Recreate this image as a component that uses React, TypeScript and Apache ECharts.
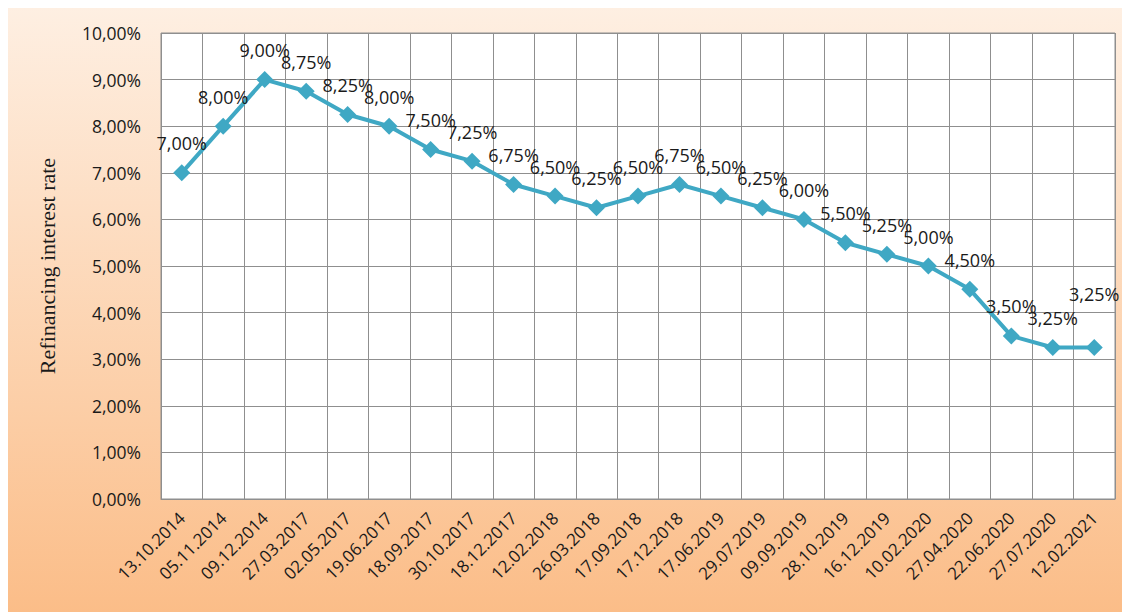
import React, { useEffect, useRef } from "react";
import * as echarts from "echarts";

const categories = [
  "13.10.2014", "05.11.2014", "09.12.2014", "27.03.2017", "02.05.2017", "19.06.2017",
  "18.09.2017", "30.10.2017", "18.12.2017", "12.02.2018", "26.03.2018", "17.09.2018",
  "17.12.2018", "17.06.2019", "29.07.2019", "09.09.2019", "28.10.2019", "16.12.2019",
  "10.02.2020", "27.04.2020", "22.06.2020", "27.07.2020", "12.02.2021",
];
const rates = [
  7.0, 8.0, 9.0, 8.75, 8.25, 8.0, 7.5, 7.25, 6.75, 6.5, 6.25, 6.5, 6.75, 6.5, 6.25, 6.0,
  5.5, 5.25, 5.0, 4.5, 3.5, 3.25, 3.25,
];
const yAxisTitle = "Refinancing interest rate";

const fmt = (v: number) => v.toFixed(2).replace(".", ",") + "%";

export default function App() {
  const ref = useRef<HTMLDivElement>(null);
  useEffect(() => {
    if (!ref.current) return;
    const chart = echarts.init(ref.current, undefined, { renderer: "svg" });
    const last = rates.length - 1;
    chart.setOption({
      animation: false,
      backgroundColor: {
        type: "linear", x: 0, y: 0, x2: 0, y2: 1,
        colorStops: [
          { offset: 0, color: "#FEEFE2" },
          { offset: 1, color: "#FBBD88" },
        ],
      },
      grid: { left: 153, right: 15, top: 25, bottom: 113, show: true, backgroundColor: "#ffffff", borderColor: "#8f8f8f", borderWidth: 1 },
      xAxis: {
        type: "category",
        data: categories,
        boundaryGap: true,
        axisLine: { lineStyle: { color: "#8f8f8f" } },
        axisTick: { show: false },
        splitLine: { show: true, interval: 0, lineStyle: { color: "#8f8f8f", width: 1 } },
        axisLabel: {
          interval: 0, rotate: 45, fontFamily: "Open Sans", fontSize: 17, color: "#1a1a1a", margin: 16,
        },
      },
      yAxis: {
        type: "value",
        min: 0, max: 10, interval: 1,
        name: yAxisTitle,
        nameLocation: "middle",
        nameGap: 103,
        nameTextStyle: { fontFamily: "Liberation Serif", fontSize: 22, color: "#1a1a1a" },
        axisLine: { show: false },
        axisTick: { show: false },
        splitLine: { lineStyle: { color: "#8f8f8f", width: 1 } },
        axisLabel: { formatter: (v: number) => fmt(v), fontFamily: "Open Sans", fontSize: 17.5, color: "#1a1a1a", margin: 20 },
      },
      series: [
        {
          type: "line",
          data: rates.map((v, i) =>
            i === last ? { value: v, label: { distance: 36 } } : v
          ),
          symbol: "diamond",
          symbolSize: 17,
          lineStyle: { color: "#3FA8C4", width: 4 },
          itemStyle: { color: "#3FA8C4" },
          label: {
            show: true, position: "top", distance: 12,
            formatter: (p: any) => fmt(p.value),
            fontFamily: "Open Sans", fontSize: 18, color: "#1a1a1a",
          },
        },
      ],
    });
    return () => chart.dispose();
  }, []);
  return <div ref={ref} style={{ width: 1122, height: 604 }} />;
}
